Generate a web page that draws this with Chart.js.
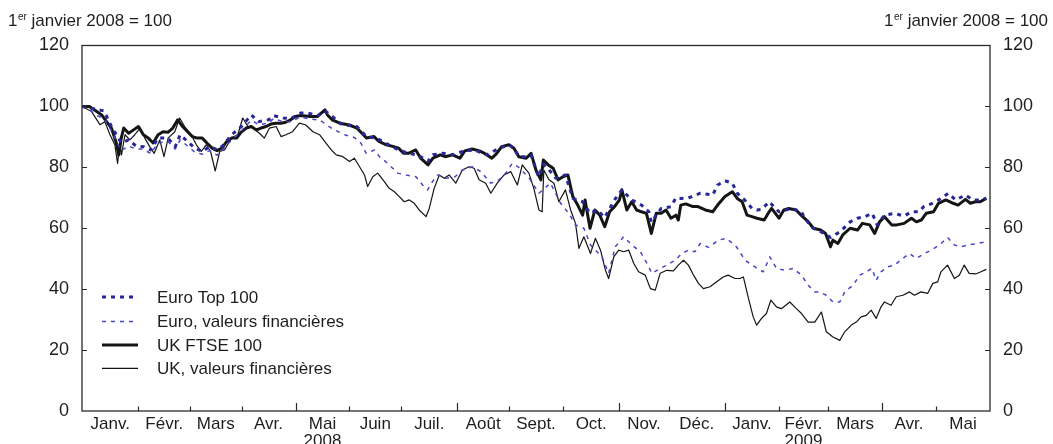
<!DOCTYPE html>
<html lang="fr">
<head>
<meta charset="utf-8">
<script src="https://cdn.jsdelivr.net/npm/chart.js@4/dist/chart.umd.min.js"></script>
<style>
  html, body { margin: 0; padding: 0; background: #fff; }
  #wrap { width: 1053px; height: 444px; }
</style>
</head>
<body>
<div id="wrap"><canvas id="c" width="1053" height="444"></canvas></div>
<script>
// Weekday index of the first day of each month, Jan 2008 .. end of May 2009
const monthStarts = [0, 23, 44, 65, 87, 109, 130, 153, 174, 196, 219, 239, 262, 284, 304, 326, 348, 370];
const monthNames = ['Janv.', 'Févr.', 'Mars', 'Avr.', 'Mai', 'Juin', 'Juil.', 'Août', 'Sept.',
                    'Oct.', 'Nov.', 'Déc.', 'Janv.', 'Févr.', 'Mars', 'Avr.', 'Mai'];
const yearUnderMonth = { 4: '2008', 13: '2009' };
const quarterStarts = [87, 153, 219, 262, 326];
const yTickValues = [0, 20, 40, 60, 80, 100, 120];
const unitLabel = 'janvier 2008 = 100';

// Index values (1er janvier 2008 = 100), [weekday index, level]
const euroTop100 = [
  [0,100],[3,99.5],[6,99],[9,98.5],[12,93.4],[16,88],[19,89],[22,87],[25,86.8],[28,85.7],
  [31,89.6],[35,89.6],[38,86.8],[40,90.7],[43,88.5],[46,86.3],[49,85.2],[52,86.8],[55,85.8],[57,86.8],
  [61,90.7],[65,93.4],[69,97.2],[72,95],[76,95.6],[78,97],[82,96.2],[85,96],[89,97.8],[92,97.8],
  [96,97],[99,98.5],[102,96.7],[106,94],[112,93.4],[116,90],[120,89.6],[125,87.4],[129,85.7],[133,84.6],
  [137,84],[141,82],[143,84.1],[147,84.6],[151,84.1],[156,85.5],[160,85.7],[165,84.1],[170,86.3],[174,87.4],
  [176,86.3],[178,83.5],[181,83.5],[183,84],[186,76.9],[188,81],[190,79.5],[193,76.5],[197,77.5],[200,69.8],
  [204,68.7],[207,64.9],[210,66],[213,63.5],[217,69.3],[220,72.6],[224,69.3],[228,67.6],[231,65.4],[232,62],
  [236,66.5],[240,67.1],[242,70],[244,69.8],[247,69.9],[252,71.5],[257,70.9],[259,74.2],[262,75.6],[265,74.8],
  [267,71.5],[270,69.3],[273,66.5],[275,66],[277,66.2],[280,68.7],[284,65.4],[289,66.5],[293,65.4],[297,60.5],
  [301,58.9],[305,57],[309,58.9],[313,62.1],[316,63.3],[319,63.8],[322,64.9],[324,61.1],[327,64.3],[331,64.9],
  [335,64],[338,65.4],[341,65.4],[343,67.1],[346,68],[349,69.3],[353,71.5],[356,69.3],[360,70.9],[363,69.3],
  [366,69.3],[368.5,69.8]
];

const euroFinancials = [
  [0,100],[3,99],[6,97],[9,96],[12,92],[15,87],[16,85.5],[19,87],[22,86],[25,86],
  [28,84.5],[31,88],[35,88.5],[38,86],[40,89],[43,87],[46,85],[49,84.3],[52,85.5],[55,84],
  [57,85.5],[61,89],[65,92],[69,95.5],[72,94],[76,94.5],[78,96],[82,95],[85,95],[89,96.5],
  [92,96],[96.9,95.5],[102.1,92.6],[107,90.7],[111,89.8],[113.7,87.9],[115.8,84.6],[119.2,85.7],[121.2,83.5],[124.6,81.3],
  [128.6,78.1],[132,77.5],[136.1,76.9],[138.8,74.2],[140.8,72.6],[142.8,75.3],[144.9,77.5],[148.3,76.4],[152,76.9],[155,79.1],
  [159.1,80.2],[162.5,78.6],[166.6,74.8],[169.9,75.9],[172.7,78.1],[175.3,81.3],[178,80],[182.1,76.6],[186.2,71.5],[190.9,74.8],
  [195,68.2],[198.4,64.9],[201.1,61.1],[204.5,60],[207.2,54.5],[211.9,50.6],[214.6,45.2],[217.3,53.9],[220.7,57.2],[224.1,54.5],
  [227.5,52.3],[230.2,48.5],[232.2,45.2],[235.6,46.8],[238.3,47.9],[241.7,49.5],[244.4,51.7],[247.1,52.8],[249.8,52.3],[251.9,55],
  [255.3,53.7],[259.3,56.1],[262.7,56.7],[266.7,53.9],[270.2,49.5],[274.2,47.3],[277.6,45.7],[280.3,50.6],[283,46.8],[286.4,46.2],
  [289.8,46.8],[293.2,44.6],[295.9,41.3],[298.6,39.1],[300.8,39],[303.3,38],[306,35.8],[308.8,35.8],[310.8,39.1],[314.2,41.3],
  [316.9,44.6],[319.6,45.7],[321.9,46.8],[323.6,42.9],[325.6,45.7],[328.3,47.3],[331.1,47.9],[334.5,50.1],[337.2,51.7],[339.9,50.1],
  [343.3,51.7],[346,52.8],[349.4,54.5],[352.7,57],[355.5,54.5],[358.2,53.9],[361.6,54.6],[364.9,55],[368.5,55.6]
];

const ukFtse100 = [
  [0,100],[3,100],[5,98.9],[8,97.2],[10,95],[12,92.9],[14,87.9],[15,84],[16,89.6],[17,92.9],
  [19,91.2],[21,92.3],[23,93.4],[25,90.7],[27,89.6],[29,88],[31,90.7],[33,91.7],[35,91.5],[37,92.9],
  [39,95.6],[41,93.4],[43,91.7],[45,90.1],[47,89.6],[49,89.6],[51,87.9],[53,86.3],[55,85.5],[57,86.3],
  [59,88.5],[61,89.6],[63,89.6],[65,91.7],[67,92.9],[69,93.4],[71,92.3],[73,92.9],[75,93.4],[77,94.2],
  [79,94.5],[81,94.5],[83,94.8],[85,95.6],[87,96.7],[89,97],[93,96.7],[96,96.7],[99,98.9],[100,97.2],
  [102,95.6],[105,94.5],[109,93.9],[112,92.9],[116,89.6],[119,90.1],[121,88.5],[124,87.4],[127,86.8],[129,86.3],
  [131,84.6],[133,84.6],[136,85.7],[138,83],[141,80.8],[143,83],[146,84.1],[148,83.5],[151,84.1],[154,83],
  [156,85.4],[159,86],[162,85.4],[164,84.6],[167,83],[169,84.6],[171,86.8],[174,87.4],[176,86.3],[178,83.5],
  [181,83],[183,84.6],[185,79.1],[187,75.9],[188,82.4],[190,80.8],[192,79.7],[194,75.9],[196,76.9],[198,77.5],
  [200,70.4],[202,67.6],[204,64.3],[205,69.3],[207,60],[209,66],[211,64.3],[213,60.5],[215,65.4],[217,67.1],
  [219,69.3],[220,72.6],[222,66],[224,68.7],[226,66],[228,65.4],[230,64.9],[232,58.3],[234,64.9],[236,64.9],
  [238,66],[240,63.3],[242,64.3],[243,62.7],[244,67.6],[246,68],[249,67.1],[251,67.1],[254,66],[257,65.4],
  [259,67.6],[262,70.4],[265,72],[267,69.8],[269,68.7],[271,64.3],[273,63.8],[275,63.3],[278,62.7],[280,65.4],
  [281,66.5],[284,63.3],[286,66],[288,66.5],[291,66],[293,64.3],[296,62.1],[298,60],[301,59.4],[303,58.3],
  [305,53.9],[306,56.1],[308,55],[310,57.8],[313,60],[316,59.4],[318,61.6],[321,61.1],[323,58.3],[325,62.1],
  [327,63.8],[330,61.1],[332,61.1],[335,61.6],[338,63.3],[340,62.1],[342,62.7],[344,64.9],[347,65.4],[349,68.2],
  [352,69.3],[355,68.2],[357,67.6],[360,69.5],[362,68.2],[364,68.7],[366,68.7],[368.5,69.8]
];

const ukFinancials = [
  [0,100],[3.9,98.3],[7.3,94],[9.3,95],[11.4,90.7],[13.4,87.4],[14.5,81.3],[15.4,87.9],[16.1,84.1],[17.5,90.7],
  [19.5,89],[21.5,90.7],[23.6,92.9],[25.6,89.6],[27.6,86.8],[29.4,84.6],[31.7,89],[33.4,83.5],[35.1,89.6],[37.8,91.7],
  [39.8,96.2],[41.8,93.4],[44.5,90.7],[46.6,87.4],[48.6,85.2],[50.6,87.4],[52.4,85.2],[54.3,78.8],[56.1,85.2],[58.1,85.7],
  [60.8,89.6],[63.5,90.7],[65.5,96.2],[67.6,93.4],[69.6,92.9],[72.3,91.2],[74.3,89.6],[76.4,92.9],[79.1,93.4],[81.1,90.1],
  [83.1,90.7],[85.8,91.7],[88.6,94.5],[91.2,93.9],[94.1,91.7],[96.8,90.7],[99.5,87.9],[101.6,85.7],[103.6,84.1],[106.3,83.5],
  [109,81.9],[111,83],[113.1,80.2],[115.1,77.5],[116.4,73.7],[118.5,76.9],[120.5,78.1],[123.2,75.3],[125.2,73.1],[127.3,72],
  [129.3,70.4],[131.3,68.7],[133.4,69.3],[135.4,68.2],[137.4,66],[140.2,63.8],[141.5,66.5],[143.5,73.1],[145.6,77.5],[147.6,76.4],
  [149.6,77.5],[152.3,74.8],[155,79.1],[157.7,80.2],[159.8,79.7],[161.8,75.9],[164.5,74.8],[166.6,71.5],[169.2,74.8],[172,77.5],
  [174.7,78.6],[177.4,74.2],[179.4,80.8],[182.1,78.1],[184.1,73.1],[186.2,66],[187.5,65.4],[188.2,79.1],[190.3,75.9],[192.3,74.8],
  [194.3,68.7],[197,72.6],[199.1,66],[201.1,61.6],[202.5,53.4],[204.5,57.2],[207.2,51.7],[209.2,56.7],[211.3,52.8],[213.3,46.2],
  [214.6,43.5],[216.7,50.6],[218.7,52.8],[220.7,52.3],[222.8,52.8],[224.8,48.5],[226.8,45.7],[229.5,44.6],[231.6,40.2],[233.6,39.7],
  [235.6,45.2],[238.3,46.2],[241,46],[243,47.9],[245.1,49.5],[247.1,47.9],[249.2,44.6],[251.2,41.9],[253.2,40.2],[255.9,40.8],
  [258.6,42.4],[261.3,44],[263.3,44.6],[266.1,43.5],[268.1,43.5],[269.5,44],[271.5,37.2],[273.5,30.9],[274.9,28.2],[276.9,30.4],
  [278.9,32],[280.7,36.4],[283,34.2],[285,33.6],[288.4,35.8],[291.1,33.6],[293.2,32],[295.9,29.2],[298.6,29.2],[301.3,32.5],
  [303.3,26],[306,24.3],[308.8,23.2],[310.8,26],[313.5,28.2],[315.5,29.2],[317.5,30.9],[319.6,31.4],[321.6,33.1],[323.6,30.4],
  [325.6,34.2],[327,35.8],[329.7,34.7],[331.8,37.5],[334.5,38],[337.2,39.1],[339.2,38],[341.9,39.1],[344.6,38.6],[346.7,41.9],
  [348.7,42.4],[350,45.7],[352.7,47.9],[355.5,43.5],[357.5,44.6],[359.5,47.9],[361.5,45.2],[364.2,45],[366.3,45.7],[368.5,46.5]
];

const FONT = '"Liberation Sans", Arial, Helvetica, sans-serif';
const TEXT = '#1e1e1e';
const AXIS = '#2a2a2a';

const toPoints = arr => arr.map(([x, y]) => ({ x, y }));
const monthMids = monthNames.map((_, i) => (monthStarts[i] + monthStarts[i + 1]) / 2);

// Frame, inward tick marks, unit labels and the inset legend
const decorations = {
  id: 'decorations',
  afterDraw(chart) {
    const { ctx, chartArea: a, scales } = chart;
    const xs = scales.x, ys = scales.y;
    ctx.save();
    ctx.strokeStyle = AXIS;
    ctx.lineWidth = 1.3;
    ctx.strokeRect(a.left, a.top, a.right - a.left, a.bottom - a.top);

    ctx.lineWidth = 1.2;
    ctx.beginPath();
    monthStarts.slice(1, -1).forEach(d => {
      const px = Math.round(xs.getPixelForValue(d)) + 0.5;
      const len = quarterStarts.includes(d) ? 8 : 4.5;
      ctx.moveTo(px, a.bottom);
      ctx.lineTo(px, a.bottom - len);
    });
    yTickValues.slice(1, -1).forEach(v => {
      const py = Math.round(ys.getPixelForValue(v)) + 0.5;
      ctx.moveTo(a.left, py); ctx.lineTo(a.left + 5, py);
      ctx.moveTo(a.right, py); ctx.lineTo(a.right - 5, py);
    });
    ctx.stroke();

    // "1er janvier 2008 = 100" on both sides
    const drawUnit = (x, alignRight) => {
      ctx.fillStyle = TEXT;
      ctx.textBaseline = 'alphabetic';
      ctx.textAlign = 'left';
      ctx.font = '17px ' + FONT;
      const w1 = ctx.measureText('1').width;
      const rest = ' ' + unitLabel;
      const w3 = ctx.measureText(rest).width;
      ctx.font = '10px ' + FONT;
      const w2 = ctx.measureText('er').width;
      const x0 = alignRight ? x - (w1 + w2 + w3 + 0.5) : x;
      const base = 26;
      ctx.font = '17px ' + FONT;
      ctx.fillText('1', x0, base);
      ctx.font = '10px ' + FONT;
      ctx.fillText('er', x0 + w1 + 0.5, base - 6);
      ctx.font = '17px ' + FONT;
      ctx.fillText(rest, x0 + w1 + w2 + 0.5, base);
    };
    drawUnit(8, false);
    drawUnit(1048, true);

    // legend
    const rows = [297, 321.5, 345, 368.3];
    chart.data.datasets.forEach((ds, i) => {
      const y = rows[i];
      ctx.beginPath();
      ctx.strokeStyle = ds.borderColor;
      ctx.lineWidth = ds.borderWidth;
      ctx.setLineDash(ds.borderDash || []);
      ctx.moveTo(102, y);
      ctx.lineTo(138, y);
      ctx.stroke();
      ctx.setLineDash([]);
      ctx.fillStyle = TEXT;
      ctx.font = '17px ' + FONT;
      ctx.textAlign = 'left';
      ctx.textBaseline = 'middle';
      ctx.fillText(ds.label, 157, y + 1);
    });
    ctx.restore();
  }
};

const yAxisCommon = {
  type: 'linear',
  min: 0,
  max: 120,
  grid: { display: false, drawTicks: false },
  border: { display: false },
  afterBuildTicks: s => { s.ticks = yTickValues.map(v => ({ value: v })); },
  ticks: { color: TEXT, font: { family: FONT, size: 18 }, padding: 13 }
};

new Chart(document.getElementById('c'), {
  type: 'line',
  data: {
    datasets: [
      { label: 'Euro Top 100', data: toPoints(euroTop100), borderColor: '#27279a',
        borderWidth: 3, borderDash: [4, 5], yAxisID: 'y' },
      { label: 'Euro, valeurs financières', data: toPoints(euroFinancials), borderColor: '#4646c4',
        borderWidth: 1.5, borderDash: [4, 5], yAxisID: 'y' },
      { label: 'UK FTSE 100', data: toPoints(ukFtse100), borderColor: '#151515',
        borderWidth: 3, yAxisID: 'y' },
      { label: 'UK, valeurs financières', data: toPoints(ukFinancials), borderColor: '#151515',
        borderWidth: 1.2, yAxisID: 'y' }
    ]
  },
  options: {
    responsive: false,
    animation: false,
    devicePixelRatio: 1,
    elements: { point: { radius: 0 }, line: { tension: 0, fill: false, borderJoinStyle: 'round' } },
    layout: { padding: { top: 45.5, left: 0, right: 0, bottom: 0 } },
    plugins: { legend: { display: false }, tooltip: { enabled: false } },
    scales: {
      x: {
        type: 'linear',
        min: 0,
        max: 370,
        grid: { display: false, drawTicks: false },
        border: { display: false },
        afterBuildTicks: s => { s.ticks = monthMids.map(v => ({ value: v })); },
        afterFit: s => { s.height = 33; },
        ticks: {
          autoSkip: false,
          maxRotation: 0,
          minRotation: 0,
          padding: 5,
          color: TEXT,
          font: { family: FONT, size: 17, lineHeight: 1 },
          callback: (v, i) => yearUnderMonth[i] ? [monthNames[i], yearUnderMonth[i]] : monthNames[i]
        }
      },
      y: Object.assign({}, yAxisCommon, { position: 'left', afterFit: s => { s.width = 82; } }),
      y2: Object.assign({}, yAxisCommon, { position: 'right', afterFit: s => { s.width = 63; } })
    }
  },
  plugins: [decorations]
});
</script>
</body>
</html>
